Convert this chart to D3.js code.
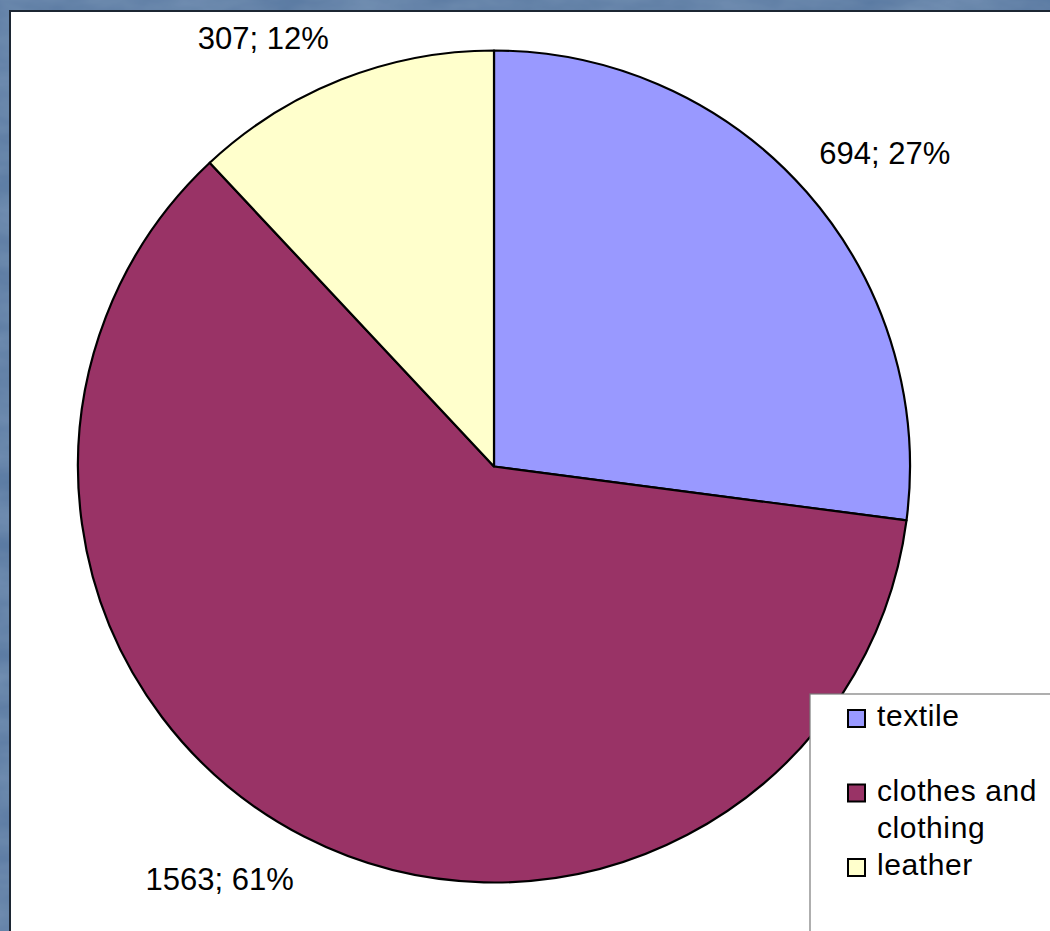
<!DOCTYPE html>
<html><head><meta charset="utf-8">
<script src="https://cdn.jsdelivr.net/npm/d3@7"></script>
<style>html,body{margin:0;padding:0;background:#5b7ba3;overflow:hidden}</style>
</head><body>
<svg id="chart" width="1050" height="931"></svg>
<script>
const categories = ["textile", "clothes and clothing", "leather"];
const values = [694, 1563, 307];
const percents = ["27%", "61%", "12%"];
const legendLines = [["textile"], ["clothes and", "clothing"], ["leather"]];
const colors = ["#9999FF", "#993366", "#FFFFCC"];

const W = 1050, H = 931;
const svg = d3.select("#chart");
const defs = svg.append("defs");
const f = defs.append("filter").attr("id","marble").attr("x",0).attr("y",0).attr("width","100%").attr("height","100%");
f.append("feTurbulence").attr("type","fractalNoise").attr("baseFrequency","0.012 0.03").attr("numOctaves",4).attr("seed",3).attr("result","n");
f.append("feColorMatrix").attr("in","n").attr("type","matrix")
 .attr("values","0 0 0 0 0.33  0 0 0 0 0.46  0 0 0 0 0.62  0.9 0 0 0 -0.2").attr("result","c");
f.append("feComposite").attr("in","c").attr("in2","SourceGraphic").attr("operator","over");

svg.append("rect").attr("width",W).attr("height",H).attr("fill","#5b7ba3");
svg.append("rect").attr("width",W).attr("height",H).attr("fill","#5b7ba3").attr("filter","url(#marble)").attr("opacity",0.55);

// plot frame
svg.append("rect").attr("x",10).attr("y",11).attr("width",W).attr("height",H)
  .attr("fill","#fff").attr("stroke","#1c2633").attr("stroke-width",2);

const cx = 494, cy = 466.5, R = 416;
const pie = d3.pie().sort(null).value(d => d)(values);
const arc = d3.arc().innerRadius(0).outerRadius(R);
const g = svg.append("g").attr("transform",`translate(${cx},${cy})`);
g.selectAll("path").data(pie).join("path")
  .attr("d", arc)
  .attr("fill",(d,i)=>colors[i])
  .attr("stroke","#000").attr("stroke-width",2.2).attr("stroke-linejoin","round");

// labels placed on an outer arc, nudged like the original layout
const labelArc = d3.arc().innerRadius(500).outerRadius(500);
const nudge = [[15,27],[-46,-21],[-47,48]];
g.selectAll("text.lbl").data(pie).join("text").attr("class","lbl")
  .attr("x",(d,i)=>labelArc.centroid(d)[0]+nudge[i][0])
  .attr("y",(d,i)=>labelArc.centroid(d)[1]+nudge[i][1])
  .attr("text-anchor","middle")
  .attr("font-family","'Liberation Sans', Arial, sans-serif").attr("font-size",31)
  .attr("fill","#000")
  .text((d,i)=>`${values[i]}; ${percents[i]}`);

// legend
const lg = svg.append("g");
lg.append("rect").attr("x",810).attr("y",694).attr("width",300).attr("height",300)
  .attr("fill","#fff").attr("stroke","#7a7a7a").attr("stroke-width",1.2);
const ly = d3.scalePoint().domain(categories).range([718, 867]);
const items = lg.selectAll("g.item").data(categories).join("g").attr("class","item")
  .attr("transform",d=>`translate(848,${ly(d)})`);
items.append("rect").attr("x",0).attr("y",-8).attr("width",17).attr("height",17)
  .attr("fill",(d,i)=>colors[i]).attr("stroke","#000").attr("stroke-width",2);
items.append("text").attr("x",29).attr("y",8)
  .attr("font-family","'Liberation Sans', Arial, sans-serif").attr("font-size",30)
  .attr("letter-spacing",0.6).attr("fill","#000")
  .selectAll("tspan").data((d,i)=>legendLines[i]).join("tspan")
  .attr("x",29).attr("dy",(d,j)=>j===0?0:37).text(d=>d);
</script>
</body></html>
